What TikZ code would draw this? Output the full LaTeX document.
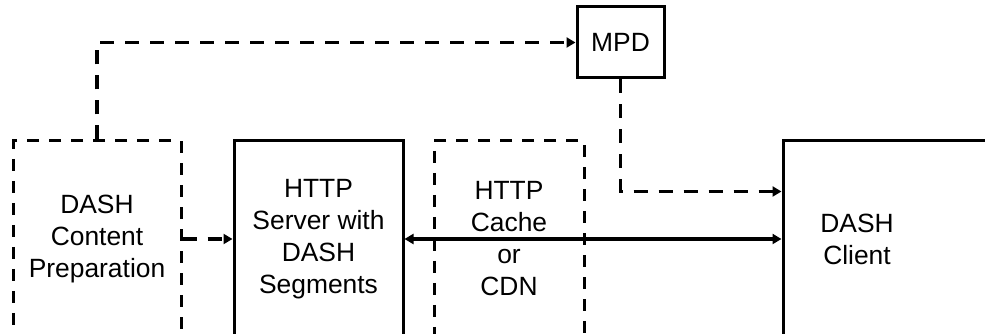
\documentclass[tikz,border=0pt]{standalone}
\usepackage{fontspec}
\setmainfont{Liberation Sans}
\usetikzlibrary{arrows.meta}
\begin{document}
\begin{tikzpicture}[x=1pt,y=1pt,
  boxbase/.style={rectangle, line width=3pt, inner sep=0pt, align=center,
    font=\fontsize{26.4}{32}\selectfont},
  solidbox/.style={boxbase, draw},
  dashbox/.style={boxbase, draw, dash pattern=on 12pt off 10pt},
  lbl/.style={align=center, inner sep=0pt, font=\fontsize{26.4}{32}\selectfont},
  dashline/.style={line width=3.8pt, dash pattern=on 14pt off 11pt, -{Triangle[length=9pt,width=10pt]}},
  solidline/.style={line width=3.4pt, {Triangle[length=9pt,width=10pt]}-{Triangle[length=9pt,width=10pt]}}
]
\useasboundingbox (0,0) rectangle (985,334);
\clip (0,0) rectangle (985,334);
\node[dashbox, minimum width=168pt, minimum height=196pt] (prep) at (97,95)
  {DASH\\Content\\Preparation};
\node[solidbox, minimum width=169pt, minimum height=196pt] (server) at (318.5,95)
  {HTTP\\Server with\\DASH\\Segments};
\node[dashbox, minimum width=150pt, minimum height=196pt] (cache) at (509,95)
  {HTTP\\Cache\\or\\CDN};
\node[solidbox, minimum width=260pt, minimum height=196pt] (client) at (913,95) {};
\node[lbl] (clienttext) at (857,95) {DASH\\Client};
\node[solidbox, minimum width=87pt, minimum height=71pt] (mpd) at (620.5,291.5) {MPD};
\coordinate (cin) at ([yshift=-52pt]client.north west);
\draw[dashline] (prep.north) |- (mpd.west);
\draw[dashline] (mpd.south) |- (cin);
\draw[dashline] (prep.east) -- (server.west);
\draw[solidline] (server.east) -- (client.west);
\end{tikzpicture}
\end{document}
